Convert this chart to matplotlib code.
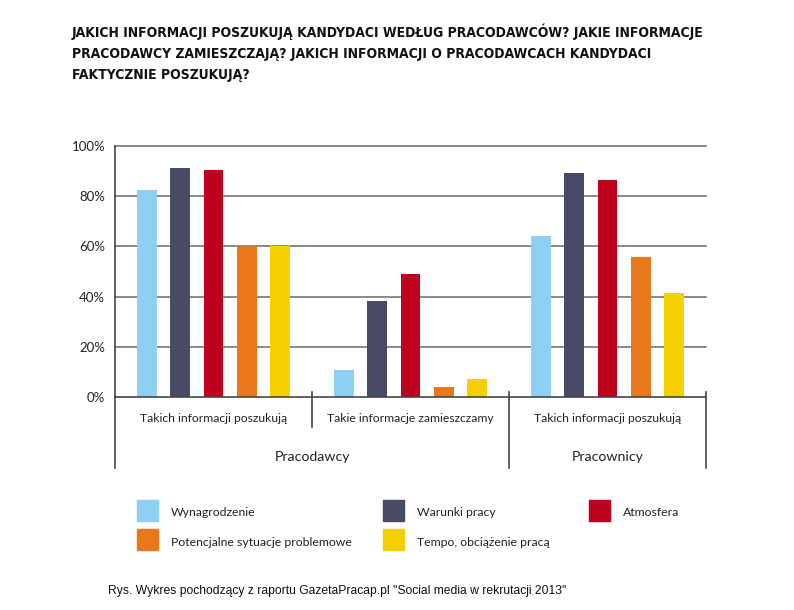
import matplotlib
matplotlib.use("Agg")
import matplotlib.pyplot as plt
from matplotlib.patches import Rectangle
import numpy as np

# data
series = ["Wynagrodzenie", "Warunki pracy", "Atmosfera",
          "Potencjalne sytuacje problemowe", "Tempo, obciążenie pracą"]
colors = ["#8ecff3", "#484a66", "#c0001f", "#e9781d", "#f5d000"]
subgroups = ["Takich informacji poszukują", "Takie informacje zamieszczamy",
             "Takich informacji poszukują"]
groups = ["Pracodawcy", "Pracownicy"]
pracodawcy_poszukuja = [82.5, 91.3, 90.4, 60.0, 60.0]
pracodawcy_zamieszczaja = [10.9, 38.3, 49.1, 4.0, 7.0]
pracownicy_poszukuja = [64.2, 89.3, 86.3, 55.8, 41.3]
values = [pracodawcy_poszukuja, pracodawcy_zamieszczaja, pracownicy_poszukuja]
yticks = [0, 20, 40, 60, 80, 100]

title = ("JAKICH INFORMACJI POSZUKUJĄ KANDYDACI WEDŁUG PRACODAWCÓW? JAKIE INFORMACJE\n"
         "PRACODAWCY ZAMIESZCZAJĄ? JAKICH INFORMACJI O PRACODAWCACH KANDYDACI\n"
         "FAKTYCZNIE POSZUKUJĄ?")
caption = 'Rys. Wykres pochodzący z raportu GazetaPracap.pl "Social media w rekrutacji 2013"'

body = ["Lato", "DejaVu Sans"]
plt.rcParams["font.family"] = body

W, H = 794, 610
fig = plt.figure(figsize=(W / 100, H / 100), dpi=100)
ax = fig.add_axes([115 / W, 1 - 397 / H, (706 - 115) / W, (397 - 146) / H])

gw = 17.8 / 3
for g, vals in enumerate(values):
    c = g * gw + gw / 2
    x = c + np.arange(len(vals)) - 2
    ax.bar(x, vals, width=0.6, color=colors, zorder=3)

ax.set_xlim(0, 17.8)
ax.set_ylim(0, 100)
ax.set_yticks(yticks)
ax.set_yticklabels([f"{t}%" for t in yticks], fontsize=9.5, color="#222222")
ax.tick_params(axis="y", length=0, pad=7)
ax.set_xticks([])
for t in yticks[1:]:
    ax.axhline(t, color="#6a6a6a", lw=1.1, zorder=1, clip_on=False)
for s in ["top", "right", "bottom"]:
    ax.spines[s].set_visible(False)
ax.spines["left"].set_color("#444444")
ax.spines["left"].set_linewidth(1.2)

# lines below the axis
ln = dict(color="#444444", lw=1.2, clip_on=False, zorder=4)
ax.plot([0, 17.8], [0, 0], **ln)
ax.plot([0, 0], [0, -28.3], **ln)
ax.plot([gw, gw], [2, -12], **ln)
ax.plot([2 * gw, 2 * gw], [2, -28.3], **ln)
ax.plot([3 * gw, 3 * gw], [2, -28.3], **ln)

for g, lab in enumerate(subgroups):
    ax.text(g * gw + gw / 2, -8.4, lab, ha="center", va="center",
            fontsize=8.7, color="#222222")
ax.text(gw, -23.9, groups[0], ha="center", va="center", fontsize=10.2, color="#222222")
ax.text(2.5 * gw, -23.9, groups[1], ha="center", va="center", fontsize=10.2, color="#222222")

# legend
legend_pos = [(137, 500), (383, 500), (589, 500), (137, 529), (383, 529)]
for (px, py), lab, col in zip(legend_pos, series, colors):
    fig.add_artist(Rectangle((px / W, 1 - (py + 21) / H), 21 / W, 21 / H,
                             transform=fig.transFigure, color=col))
    fig.text((px + 34) / W, 1 - (py + 13) / H, lab, ha="left", va="center",
             fontsize=8.8, color="#222222")

fig.text(72 / W, 1 - 24 / H, title, ha="left", va="top", fontsize=10,
         fontweight="bold", fontstretch="condensed", linespacing=1.6,
         color="#111111", family=["DejaVu Sans"])
fig.text(108 / W, 1 - 591 / H, caption, ha="left", va="center", fontsize=8.7,
         color="#111111", family=["Liberation Sans", "DejaVu Sans"])

fig.savefig("out.png", dpi=100)
